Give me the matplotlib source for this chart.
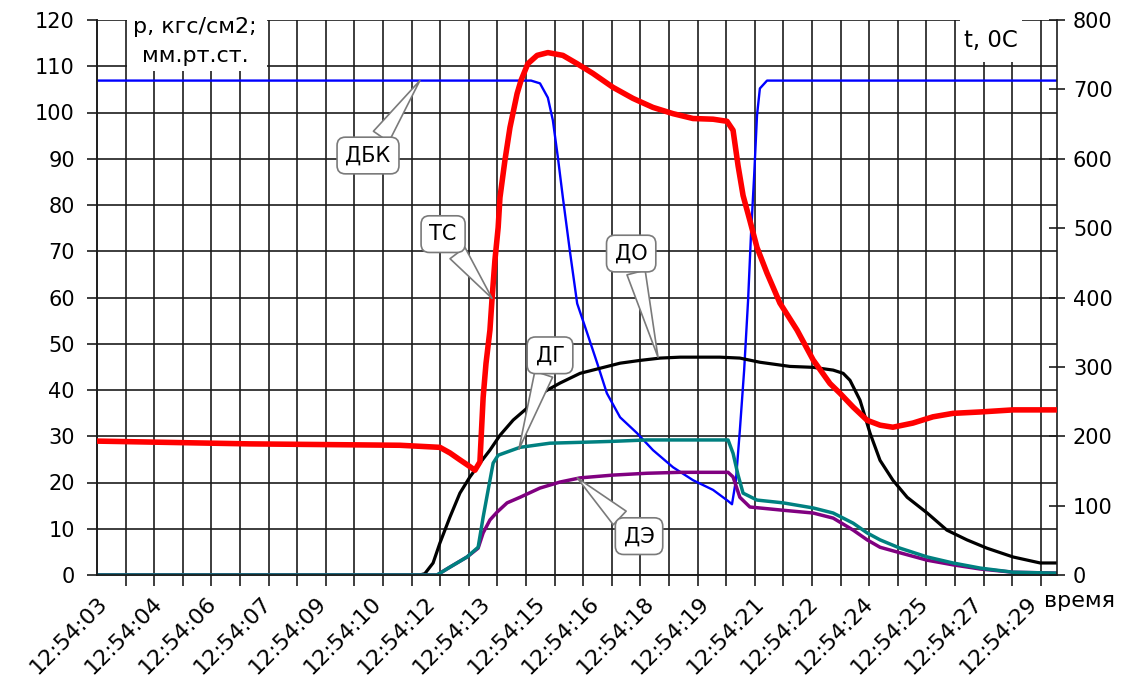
import matplotlib
matplotlib.use("Agg")
import matplotlib.pyplot as plt
from matplotlib.patches import Rectangle
from matplotlib.ticker import FixedLocator, MultipleLocator
import numpy as np

plt.rcParams['font.family'] = ['DejaVu Sans']

# ---- time axis (seconds after 12:54:03) ----
time_labels = ["12:54:03", "12:54:04", "12:54:06", "12:54:07", "12:54:09",
               "12:54:10", "12:54:12", "12:54:13", "12:54:15", "12:54:16",
               "12:54:18", "12:54:19", "12:54:21", "12:54:22", "12:54:24",
               "12:54:25", "12:54:27", "12:54:29"]
label_step = 1.53      # s between printed time labels
grid_step = 0.8        # s between vertical grid lines
t_end = 26.85

# ---- ДБК, pressure (left axis) ----
dbk_t = [0.0, 12.14, 12.39, 12.61, 12.75, 12.89, 13.03, 13.23, 13.43, 13.71,
         13.99, 14.26, 14.63, 15.10, 15.55, 16.11, 16.67, 17.23, 17.65, 17.76,
         17.87, 17.98, 18.10, 18.21, 18.29, 18.38, 18.46, 18.54, 18.74, 26.85]
dbk_p = [106.9, 106.9, 106.3, 103.2, 98.3, 90.3, 81.6, 69.8, 58.7, 52.3,
         45.8, 39.3, 34.1, 30.7, 27.0, 23.3, 20.5, 18.4, 16.0, 15.3,
         20.5, 31.3, 44.3, 59.4, 73.4, 86.4, 99.4, 105.2, 106.9, 106.9]

# ---- ДО, pressure (left axis) ----
do_t = [0.0, 9.03, 9.17, 9.40, 9.59, 9.87, 10.15, 10.43, 10.71, 10.99, 11.27,
        11.64, 12.03, 12.39, 12.95, 13.51, 14.07, 14.63, 15.19, 15.75, 16.31,
        16.86, 17.42, 17.98, 18.54, 19.38, 20.03, 20.59, 20.87, 21.06, 21.34,
        21.62, 21.90, 22.26, 22.66, 23.22, 23.77, 24.33, 24.89, 25.62, 26.38,
        26.85]
do_p = [0.0, 0.0, 0.3, 2.6, 6.9, 12.5, 17.7, 21.2, 24.2, 27.0, 30.2,
        33.5, 36.1, 39.1, 41.5, 43.6, 44.7, 45.8, 46.4, 46.9, 47.1,
        47.1, 47.1, 46.9, 46.0, 45.1, 44.9, 44.3, 43.6, 42.1, 37.8,
        30.7, 24.8, 20.5, 16.8, 13.4, 9.7, 7.6, 5.8, 3.9, 2.6,
        2.6]

# ---- ДГ, pressure (left axis) ----
dg_t = [0.0, 9.51, 9.87, 10.35, 10.66, 10.80, 10.94, 11.08, 11.22, 11.83,
        12.67, 13.59, 14.43, 15.38, 17.65, 17.79, 17.93, 18.07, 18.46, 19.19,
        20.03, 20.59, 21.15, 21.54, 21.90, 22.46, 23.22, 23.94, 24.70, 25.62,
        26.85]
dg_p = [0.0, 0.0, 1.7, 3.9, 6.0, 12.5, 18.4, 24.2, 25.9, 27.6,
        28.5, 28.7, 28.9, 29.2, 29.2, 26.3, 21.6, 17.7, 16.2, 15.6,
        14.5, 13.4, 11.2, 9.1, 7.6, 5.8, 3.9, 2.6, 1.5, 0.6,
        0.4]

# ---- ДЭ, pressure (left axis) ----
de_t = [0.0, 9.51, 9.87, 10.35, 10.66, 10.80, 10.99, 11.19, 11.47, 11.83,
        12.39, 12.95, 13.51, 14.43, 15.38, 16.31, 17.65, 17.79, 17.98, 18.26,
        19.19, 20.03, 20.59, 21.15, 21.54, 21.90, 22.46, 23.22, 23.94, 24.70,
        25.62, 26.85]
de_p = [0.0, 0.0, 1.7, 3.9, 5.8, 9.1, 11.9, 13.6, 15.6, 16.8,
        18.8, 20.1, 21.0, 21.6, 22.0, 22.2, 22.2, 21.2, 16.8, 14.7,
        14.0, 13.4, 12.3, 9.7, 7.6, 6.0, 4.8, 3.2, 2.2, 1.3,
        0.6, 0.4]

# ---- ТС, temperature (right axis, °C) ----
tc_t = [0.0, 4.28, 8.47, 9.59, 9.87, 10.15, 10.38, 10.57, 10.71, 10.80,
        10.88, 10.99, 11.05, 11.13, 11.22, 11.27, 11.41, 11.55, 11.75, 11.86,
        12.05, 12.31, 12.61, 13.03, 13.43, 13.87, 14.43, 14.99, 15.55, 16.11,
        16.67, 17.23, 17.62, 17.79, 17.93, 18.07, 18.26, 18.46, 18.74, 19.10,
        19.58, 20.03, 20.50, 20.78, 21.15, 21.54, 21.90, 22.26, 22.82, 23.38,
        23.94, 24.70, 25.62, 26.85]
tc_c = [193, 189, 187, 184, 176, 166, 158, 151, 163, 256,
        305, 353, 399, 454, 501, 544, 598, 645, 694, 713,
        737, 749, 753, 749, 737, 723, 703, 687, 674, 665,
        658, 657, 654, 641, 590, 547, 511, 472, 435, 392,
        353, 310, 276, 262, 242, 223, 216, 213, 219, 228,
        233, 235, 238, 238]

# ---- figure ----
W, H = 1126, 691
fig = plt.figure(figsize=(W / 100, H / 100), dpi=100)
fig.patch.set_facecolor("white")
x0, x1, y_top, y_bot = 97, 1057, 20, 575
ax = fig.add_axes([x0 / W, 1 - y_bot / H, (x1 - x0) / W, (y_bot - y_top) / H])
ax2 = ax.twinx()

grid_col = "#1c1c1c"

ax.set_xlim(0, t_end)
ax.set_ylim(0, 120)
ax2.set_ylim(0, 800)

# series
ax.plot(dbk_t, dbk_p, color="#0000ff", lw=1.7, zorder=3)
ax.plot(do_t, do_p, color="black", lw=2.3, zorder=4)
ax.plot(de_t, de_p, color="#800080", lw=2.5, zorder=5)
ax.plot(dg_t, dg_p, color="#008080", lw=2.5, zorder=6)
ax2.plot(tc_t, tc_c, color="#ff0000", lw=4.0, zorder=3, solid_joinstyle="round")

# x axis: labels at major ticks, grid lines at minor ticks
label_pos = np.arange(len(time_labels)) * label_step
ax.xaxis.set_major_locator(FixedLocator(label_pos))
ax.set_xticklabels(time_labels, rotation=45, ha="right", rotation_mode="anchor",
                   fontsize=16)
ax.xaxis.set_minor_locator(MultipleLocator(grid_step))
ax.tick_params(axis="x", which="major", length=0, pad=13)
ax.tick_params(axis="x", which="minor", length=8, width=1.2, color=grid_col,
               direction="out")
ax.grid(which="minor", axis="x", color=grid_col, lw=1.2)

# left y axis
ax.yaxis.set_major_locator(MultipleLocator(10))
ax.tick_params(axis="y", which="major", length=7, width=1.2, color=grid_col,
               labelsize=15, pad=9, direction="out")
ax.grid(which="major", axis="y", color=grid_col, lw=1.2)

# right y axis
ax2.yaxis.set_major_locator(MultipleLocator(100))
ax2.tick_params(axis="y", which="major", length=11, width=1.2, color=grid_col,
                labelsize=15, pad=6, direction="inout")

for a in (ax, ax2):
    a.spines["top"].set_visible(False)
    for s in ("left", "right", "bottom"):
        a.spines[s].set_color(grid_col)
        a.spines[s].set_linewidth(1.2)
ax.spines["right"].set_visible(False)
ax.set_axisbelow(True)

# axis titles in white boxes over the frame
for (bx, bw, bh) in ((127, 140, 71), (960, 62, 62)):
    ax2.add_patch(Rectangle((bx / W, 1 - bh / H), bw / W, bh / H,
                            transform=fig.transFigure, facecolor="white",
                            edgecolor="none", zorder=20, clip_on=False))
ax2.text(195 / W, 1 - 27 / H, "p, кгс/см2;", transform=fig.transFigure,
         ha="center", va="center", fontsize=16, zorder=21)
ax2.text(195 / W, 1 - 56 / H, "мм.рт.ст.", transform=fig.transFigure,
         ha="center", va="center", fontsize=16, zorder=21)
ax2.text(991 / W, 1 - 40 / H, "t, 0C", transform=fig.transFigure,
         ha="center", va="center", fontsize=16.5, zorder=21)
fig.text(1079 / W, 1 - 601 / H, "время", ha="center", va="center", fontsize=16)

# callouts
callouts = [
    ("ДБК", (9.03, 106.9), (7.58, 90.7)),
    ("ТС", (11.05, 59.8), (9.68, 73.7)),
    ("ДО", (15.69, 47.1), (14.94, 69.5)),
    ("ДГ", (11.80, 27.2), (12.67, 47.5)),
    ("ДЭ", (13.43, 21.0), (15.16, 8.4)),
]
for text, tip, box in callouts:
    ax2.annotate(text, xy=tip, xycoords=ax.transData, xytext=box,
                 textcoords=ax.transData, ha="center", va="center",
                 fontsize=15, zorder=30,
                 bbox=dict(boxstyle="round,pad=0.4,rounding_size=0.4",
                           fc="white", ec="#7a7a7a", lw=1.2),
                 arrowprops=dict(arrowstyle="wedge,tail_width=0.9",
                                 fc="white", ec="#7a7a7a", lw=1.2,
                                 shrinkA=0, shrinkB=0))

fig.savefig("out.png", dpi=100, facecolor="white")
